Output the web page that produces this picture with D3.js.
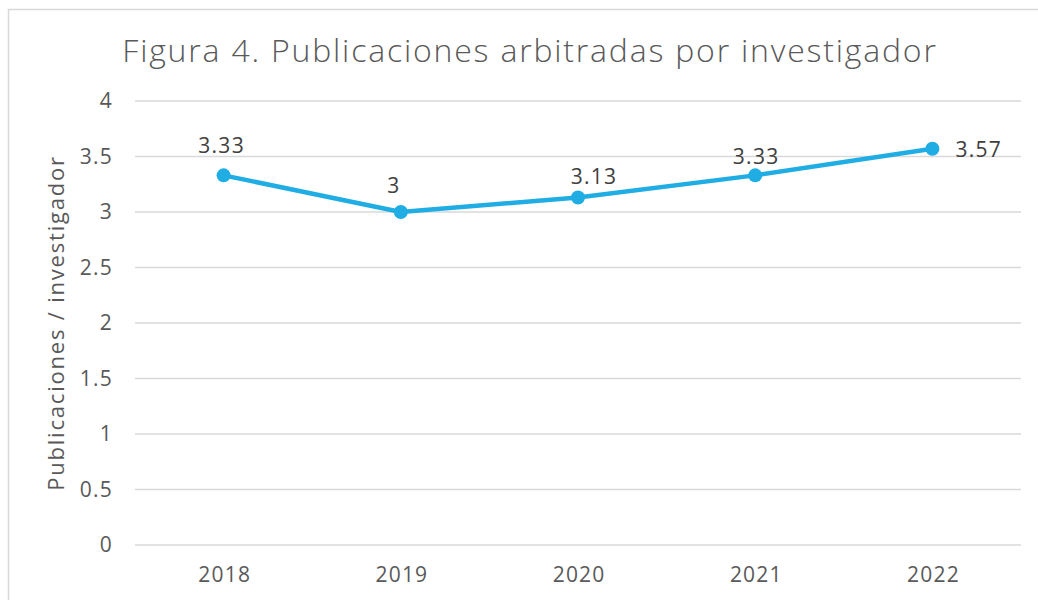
<!DOCTYPE html>
<html>
<head>
<meta charset="utf-8">
<script src="https://cdn.jsdelivr.net/npm/d3@7"></script>
<style>
  body { margin: 0; background: #fff; }
  svg { display: block; font-family: "Open Sans", sans-serif; font-weight: 400; }
</style>
</head>
<body>
<div id="chart"></div>
<script>
// Chart data
const years = ["2018", "2019", "2020", "2021", "2022"];
const values = [3.33, 3, 3.13, 3.33, 3.57];
const labels = ["3.33", "3", "3.13", "3.33", "3.57"];
const yTicks = [0, 0.5, 1, 1.5, 2, 2.5, 3, 3.5, 4];

const width = 1038;
const height = 600;
const margin = { top: 101, right: 17, bottom: 55, left: 135 };

// label placement relative to each point (as placed in the original)
const labelShift = [[-2, -22], [-7, -19], [16, -14], [1, -11], [23, 8]];

const svg = d3.select("#chart").append("svg")
    .attr("width", width)
    .attr("height", height);

// outer frame
svg.append("rect")
    .attr("x", 8.5).attr("y", 9.5)
    .attr("width", width + 10).attr("height", height + 10)
    .attr("fill", "#fff")
    .attr("stroke", "#d9d9d9")
    .attr("stroke-width", 1.5);

const x = d3.scalePoint()
    .domain(years)
    .range([margin.left, width - margin.right])
    .padding(0.5);

const y = d3.scaleLinear()
    .domain([0, 4])
    .range([height - margin.bottom, margin.top]);

// title
svg.append("text")
    .attr("x", 530).attr("y", 62)
    .attr("text-anchor", "middle")
    .attr("fill", "#595959")
    .style("font-size", "32px")
    .style("font-weight", 300)
    .style("letter-spacing", "1.8px")
    .text("Figura 4. Publicaciones arbitradas por investigador");

// gridlines
svg.append("g")
    .selectAll("line")
    .data(yTicks)
    .join("line")
    .attr("x1", margin.left)
    .attr("x2", width - margin.right)
    .attr("y1", d => y(d))
    .attr("y2", d => y(d))
    .attr("stroke", "#d9d9d9")
    .attr("stroke-width", 1.5);

// y axis labels
const yAxis = svg.append("g")
    .attr("transform", `translate(${margin.left - 22},0)`)
    .call(d3.axisLeft(y).tickValues(yTicks).tickSize(0).tickPadding(0).tickFormat(d3.format("")));
yAxis.select(".domain").remove();
yAxis.selectAll("text")
    .attr("fill", "#595959")
    .style("font-size", "21px")
    .style("letter-spacing", "1.2px")
    .style("font-family", "'Open Sans', sans-serif");

// x axis labels
const xAxis = svg.append("g")
    .attr("transform", `translate(0,${height - margin.bottom + 22})`)
    .call(d3.axisBottom(x).tickSize(0).tickPadding(0));
xAxis.select(".domain").remove();
xAxis.selectAll("text")
    .attr("fill", "#595959")
    .attr("dx", "0.6px")
    .style("font-size", "21px")
    .style("letter-spacing", "1.2px")
    .style("font-family", "'Open Sans', sans-serif");

// y axis title
svg.append("text")
    .attr("transform", `translate(64,${(y(0) + y(4)) / 2}) rotate(-90)`)
    .attr("text-anchor", "middle")
    .attr("fill", "#595959")
    .style("font-size", "22px")
    .style("letter-spacing", "1.8px")
    .text("Publicaciones / investigador");

// line
const line = d3.line()
    .x((d, i) => x(years[i]))
    .y(d => y(d));

svg.append("path")
    .datum(values)
    .attr("fill", "none")
    .attr("stroke", "#1fade4")
    .attr("stroke-width", 4.5)
    .attr("stroke-linejoin", "round")
    .attr("d", line);

svg.append("g")
    .selectAll("circle")
    .data(values)
    .join("circle")
    .attr("cx", (d, i) => x(years[i]))
    .attr("cy", d => y(d))
    .attr("r", 7)
    .attr("fill", "#1fade4");

// data labels
const last = values.length - 1;
svg.append("g")
    .selectAll("text")
    .data(values)
    .join("text")
    .attr("x", (d, i) => x(years[i]) + labelShift[i][0])
    .attr("y", (d, i) => y(d) + labelShift[i][1])
    .attr("text-anchor", (d, i) => i === last ? "start" : "middle")
    .attr("fill", "#404040")
    .style("font-size", "21px")
    .style("letter-spacing", "1.3px")
    .text((d, i) => labels[i]);
</script>
</body>
</html>
